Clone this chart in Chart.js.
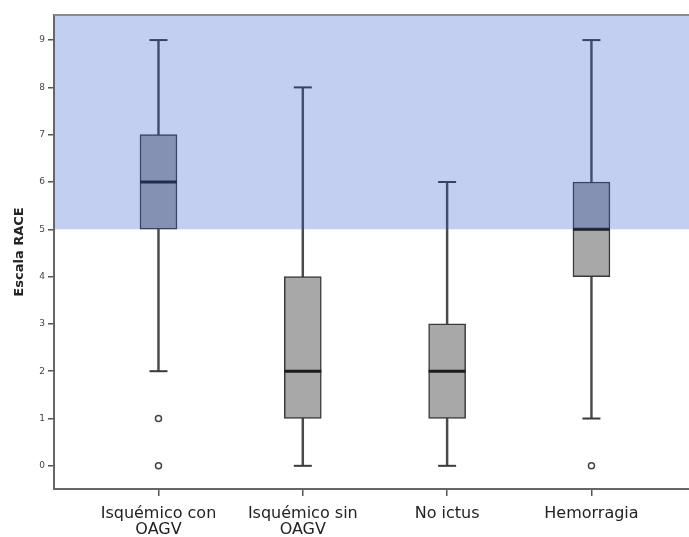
<!DOCTYPE html>
<html><head><meta charset="utf-8">
<script src="https://cdn.jsdelivr.net/npm/chart.js@4/dist/chart.umd.min.js"></script>
<style>html,body{margin:0;padding:0;background:#fff;overflow:hidden}#wrap{width:689px;height:537px;position:relative}</style>
</head><body><div id="wrap"><canvas id="c"></canvas></div>
<script>
const categories = [['Isquémico con','OAGV'], ['Isquémico sin','OAGV'], 'No ictus', 'Hemorragia'];
const whiskerLow  = [2, 0, 0, 1];
const whiskerHigh = [9, 8, 6, 9];
const q1      = [5, 1, 1, 4];
const q3      = [7, 4, 3, 6];
const medians = [6, 2, 2, 5];
const outliers = [[1, 0], [], [], [0]];
const yTicks = [0, 1, 2, 3, 4, 5, 6, 7, 8, 9];
const shadeFrom = 5;
const yTitle = 'Escala RACE';

const FONT = "'DejaVu Sans', sans-serif";

const shadePlugin = {
  id: 'shade',
  afterDatasetsDraw(chart) {
    const {ctx, chartArea: a, scales: {y}} = chart;
    const yb = y.getPixelForValue(shadeFrom);
    ctx.save();
    ctx.fillStyle = 'rgba(45,90,205,0.29)';
    ctx.fillRect(a.left + 1, a.top, a.right - a.left - 1, yb - a.top);
    ctx.strokeStyle = '#8a8a8a';
    ctx.lineWidth = 2;
    ctx.beginPath();
    ctx.moveTo(a.left, a.top);
    ctx.lineTo(a.right, a.top);
    ctx.stroke();
    ctx.restore();
  }
};

const idx = categories.map((c, i) => i);
const zeroPad = s => { s.paddingLeft = 0; s.paddingRight = 0; s.paddingTop = 0; s.paddingBottom = 0; };

new Chart(document.getElementById('c'), {
  type: 'bar',
  data: {
    datasets: [
      {
        type: 'scatter', label: 'outliers', order: 1,
        data: idx.flatMap(i => outliers[i].map(v => ({x: i, y: v}))),
        pointStyle: 'circle', pointRadius: 3, borderWidth: 1.5,
        backgroundColor: '#fff', borderColor: '#444'
      },
      {
        type: 'scatter', label: 'median', order: 2,
        data: idx.map(i => ({x: i, y: medians[i]})),
        pointStyle: 'line', pointRadius: 18.5, borderWidth: 3, borderColor: '#1c1c1c'
      },
      {
        type: 'scatter', label: 'caps', order: 3,
        data: idx.flatMap(i => [{x: i, y: whiskerLow[i]}, {x: i, y: whiskerHigh[i]}]),
        pointStyle: 'line', pointRadius: 9, borderWidth: 2, borderColor: '#3a3a3a'
      },
      {
        type: 'bar', label: 'box', order: 4, grouped: false,
        data: idx.map(i => ({x: i, y: [q1[i], q3[i]]})),
        barThickness: 37, backgroundColor: '#a8a8a8', borderColor: '#3a3a3a',
        borderWidth: 1.5, borderSkipped: false
      },
      {
        type: 'bar', label: 'whisker', order: 5, grouped: false,
        data: idx.map(i => ({x: i, y: [whiskerLow[i], whiskerHigh[i]]})),
        barThickness: 1.8, backgroundColor: '#4a4a4a', borderWidth: 0
      }
    ]
  },
  options: {
    responsive: true,
    maintainAspectRatio: false,
    animation: false,
    events: [],
    layout: {autoPadding: false, padding: {top: 15, left: 0, right: 0, bottom: 0}},
    plugins: {legend: {display: false}, tooltip: {enabled: false}},
    scales: {
      x: {
        type: 'linear', offset: false, min: -0.724, max: 3.676,
        afterBuildTicks: s => { s.ticks = idx.map(i => ({value: i})); },
        afterFit: s => { s.height = 48; zeroPad(s); },
        grid: {display: true, offset: false, drawOnChartArea: false, tickLength: 7, color: '#555', lineWidth: 1.5},
        border: {display: true, color: '#666', width: 2},
        ticks: {
          autoSkip: false, maxRotation: 0, minRotation: 0, padding: 9,
          color: '#222', font: {family: FONT, size: 16, lineHeight: 1.05},
          callback: (v, i) => categories[i]
        }
      },
      y: {
        type: 'linear', min: -0.49, max: 9.53,
        afterBuildTicks: s => { s.ticks = yTicks.map(v => ({value: v})); },
        afterFit: s => { s.width = 54; },
        grid: {display: true, drawOnChartArea: false, tickLength: 6, color: '#555', lineWidth: 1.5},
        border: {display: true, color: '#666', width: 2},
        ticks: {padding: 3, color: '#444', font: {family: FONT, size: 9}},
        title: {display: true, text: yTitle, color: '#222', padding: {top: 12, bottom: 0},
                font: {family: FONT, size: 13, weight: 'bold'}}
      }
    }
  },
  plugins: [shadePlugin]
});
</script>
</body></html>
